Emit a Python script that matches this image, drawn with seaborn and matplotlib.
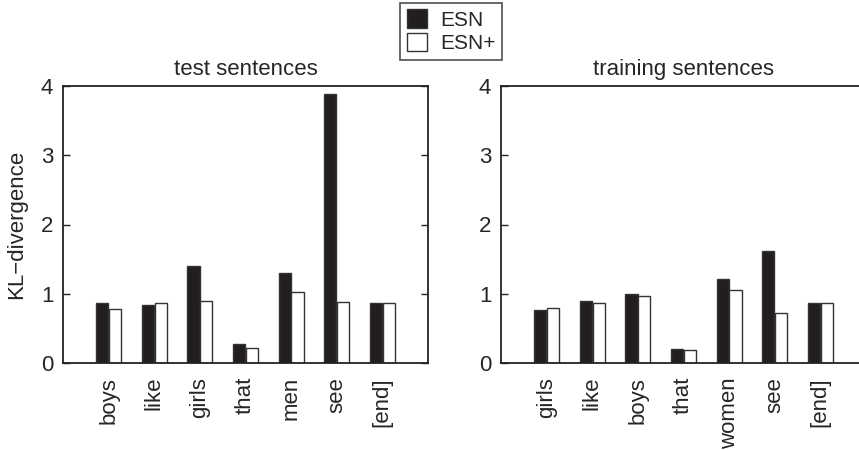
import matplotlib
matplotlib.use("Agg")
import matplotlib.pyplot as plt
import seaborn as sns
import pandas as pd
from matplotlib.patches import Patch

# ---- data ----
test_words = ["boys", "like", "girls", "that", "men", "see", "[end]"]
test_esn = [0.86, 0.84, 1.40, 0.28, 1.30, 3.89, 0.87]
test_esn_plus = [0.78, 0.87, 0.89, 0.21, 1.02, 0.88, 0.87]

train_words = ["girls", "like", "boys", "that", "women", "see", "[end]"]
train_esn = [0.77, 0.89, 0.99, 0.20, 1.22, 1.62, 0.87]
train_esn_plus = [0.79, 0.87, 0.97, 0.19, 1.05, 0.72, 0.87]

series_names = ["ESN", "ESN+"]
panel_titles = ["test sentences", "training sentences"]
y_ticks = [0, 1, 2, 3, 4]

sns.set_theme(style="ticks")
plt.rcParams["font.family"] = ["Liberation Sans", "DejaVu Sans"]

DARK = "#221e1f"
palette = {"ESN": DARK, "ESN+": "white"}
FS = 16

def make_df(words, a, b):
    return pd.DataFrame({
        "word": words + words,
        "model": [series_names[0]] * len(words) + [series_names[1]] * len(words),
        "value": a + b,
    })

fig = plt.figure(figsize=(8.59, 4.5), dpi=100)
W, H = 859, 450
ax_w = 365 / W
ax_h = 277 / H
ax_bottom = 1 - 363 / H
axes = [fig.add_axes([63 / W, ax_bottom, ax_w, ax_h]),
        fig.add_axes([501 / W, ax_bottom, ax_w, ax_h])]

panels = [(test_words, test_esn, test_esn_plus), (train_words, train_esn, train_esn_plus)]
for ax, (words, a, b), title in zip(axes, panels, panel_titles):
    df = make_df(words, a, b)
    sns.barplot(data=df, x="word", y="value", hue="model", order=words,
                hue_order=series_names, palette=palette, width=0.56, gap=0.04,
                edgecolor="#333333", linewidth=1.0, ax=ax, legend=False,
                errorbar=None, saturation=1)
    ax.set_xlim(-1, len(words))
    ax.set_ylim(0, 4)
    ax.set_yticks(y_ticks)
    ax.set_xlabel("")
    ax.set_ylabel("")
    ax.set_title(title, fontsize=FS, pad=8)
    ax.tick_params(axis="x", length=0, labelsize=FS, rotation=90, pad=10)
    ax.tick_params(axis="y", direction="in", length=5, width=1, labelsize=FS,
                   right=True, pad=7, color="#222222")
    for lbl in ax.get_xticklabels():
        lbl.set_verticalalignment("top")
    for s in ax.spines.values():
        s.set_visible(True)
        s.set_linewidth(1.3)
        s.set_color("#222222")

axes[0].set_ylabel("KL\u2212divergence", fontsize=FS, labelpad=10)

handles = [Patch(facecolor=DARK, edgecolor="#333333", label="ESN"),
           Patch(facecolor="white", edgecolor="#333333", label="ESN+")]
leg = fig.legend(handles=handles, loc="upper center",
                 bbox_to_anchor=(451 / W, 1 - 3 / H), fontsize=15,
                 frameon=True, fancybox=False, edgecolor="#222222",
                 handlelength=1.0, handleheight=1.0, handletextpad=0.6,
                 borderpad=0.3, labelspacing=0.15, borderaxespad=0)
leg.get_frame().set_linewidth(1.2)

fig.savefig("out.png", dpi=100)
